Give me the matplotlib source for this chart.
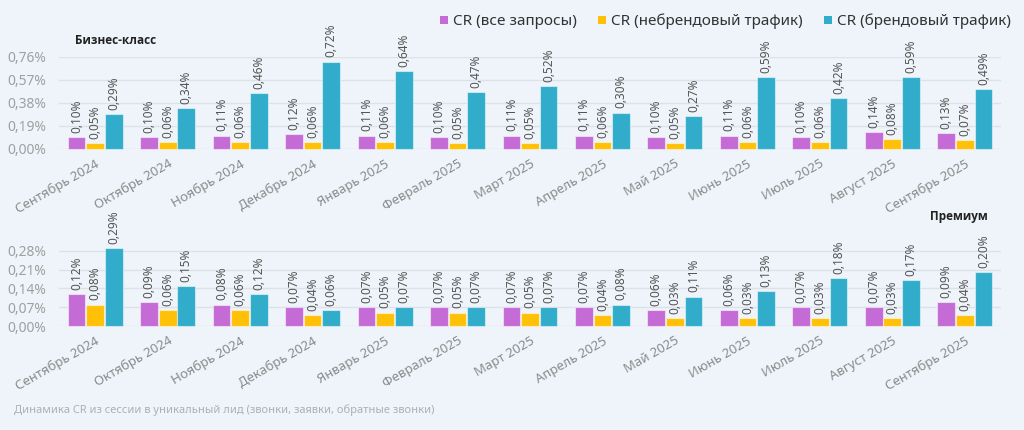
import matplotlib
matplotlib.use('Agg')
from matplotlib import pyplot as plt
from matplotlib.patches import Patch
import numpy as np

months = ['Сентябрь 2024', 'Октябрь 2024', 'Ноябрь 2024', 'Декабрь 2024',
          'Январь 2025', 'Февраль 2025', 'Март 2025', 'Апрель 2025',
          'Май 2025', 'Июнь 2025', 'Июль 2025', 'Август 2025', 'Сентябрь 2025']

series_names = ['CR (все запросы)', 'CR (небрендовый трафик)', 'CR (брендовый трафик)']
colors = ['#C46BD6', '#FFC107', '#31ADCB']

# Бизнес-класс
biz_all = [0.10, 0.10, 0.11, 0.12, 0.11, 0.10, 0.11, 0.11, 0.10, 0.11, 0.10, 0.14, 0.13]
biz_nonbrand = [0.05, 0.06, 0.06, 0.06, 0.06, 0.05, 0.05, 0.06, 0.05, 0.06, 0.06, 0.08, 0.07]
biz_brand = [0.29, 0.34, 0.46, 0.72, 0.64, 0.47, 0.52, 0.30, 0.27, 0.59, 0.42, 0.59, 0.49]
biz_ticks = [0.0, 0.19, 0.38, 0.57, 0.76]

# Премиум
prem_all = [0.12, 0.09, 0.08, 0.07, 0.07, 0.07, 0.07, 0.07, 0.06, 0.06, 0.07, 0.07, 0.09]
prem_nonbrand = [0.08, 0.06, 0.06, 0.04, 0.05, 0.05, 0.05, 0.04, 0.03, 0.03, 0.03, 0.03, 0.04]
prem_brand = [0.29, 0.15, 0.12, 0.06, 0.07, 0.07, 0.07, 0.08, 0.11, 0.13, 0.18, 0.17, 0.20]
prem_ticks = [0.0, 0.07, 0.14, 0.21, 0.28]

plt.rcParams['font.family'] = ['Noto Sans', 'DejaVu Sans']

BG = '#EEF4FA'
W, H = 1024, 430

fig = plt.figure(figsize=(W / 100, H / 100), dpi=100, facecolor=BG)


def px_axes(left, top, right, bottom):
    return fig.add_axes([left / W, 1 - bottom / H, (right - left) / W, (bottom - top) / H])


def fmt(v):
    return ('%.2f%%' % v).replace('.', ',')


def draw_panel(ax, data, ticks, ymax):
    ax.set_facecolor(BG)
    x = np.arange(len(months))
    w = 0.245
    for i, (vals, c) in enumerate(zip(data, colors)):
        pos = x + (i - 1) * (w + 0.012)
        bars = ax.bar(pos, vals, width=w, color=c, edgecolor='#ffffff80',
                      linewidth=0.8, zorder=3, clip_on=False)
        for b, v in zip(bars, vals):
            ax.annotate(fmt(v), (b.get_x() + b.get_width() / 2, v),
                        xytext=(0, 3), textcoords='offset points',
                        rotation=90, ha='center', va='bottom',
                        fontsize=8.5, color='#555555', annotation_clip=False)
    ax.set_xlim(-0.5, len(months) - 0.5)
    ax.set_ylim(0, ymax)
    ax.set_yticks(ticks)
    ax.set_yticklabels([fmt(t) for t in ticks], fontsize=10, color='#A0A0A0')
    ax.set_xticks(x)
    ax.set_xticklabels(months, rotation=30, ha='right', rotation_mode='anchor',
                       fontsize=9.5, color='#8A8A8A')
    ax.tick_params(length=0, axis='both')
    ax.tick_params(axis='x', pad=6)
    ax.tick_params(axis='y', pad=9)
    ax.grid(axis='y', color='#DCE2E8', linewidth=1, zorder=0)
    for s in ax.spines.values():
        s.set_visible(False)


ax1 = px_axes(59, 56.7, 1001, 149)
draw_panel(ax1, [biz_all, biz_nonbrand, biz_brand], biz_ticks, 0.76)

ax2 = px_axes(59, 245.6, 1001, 326)
draw_panel(ax2, [prem_all, prem_nonbrand, prem_brand], prem_ticks, 0.30)

title_font = ['Open Sans', 'DejaVu Sans']
fig.text(75 / W, 1 - 40 / H, 'Бизнес-класс', fontsize=8.5, fontweight='bold',
         family=title_font, color='#222222', va='center', ha='left')
fig.text(988 / W, 1 - 216 / H, 'Премиум', fontsize=8.5, fontweight='bold',
         family=title_font, color='#222222', va='center', ha='right')
fig.text(14 / W, 1 - 410 / H,
         'Динамика CR из сессии в уникальный лид (звонки, заявки, обратные звонки)',
         fontsize=8, color='#AAB0B8', va='center', ha='left')

handles = [Patch(facecolor=c, edgecolor='none', label=n) for c, n in zip(colors, series_names)]
fig.legend(handles=handles, loc='upper right', bbox_to_anchor=(1022 / W, 1 - 3 / H),
           ncol=3, frameon=False, fontsize=11, handlelength=0.5, handleheight=0.5,
           handletextpad=0.35, columnspacing=1.4, labelcolor='#333333',
           borderaxespad=0.3)

fig.savefig('out.png', dpi=100, facecolor=BG)
